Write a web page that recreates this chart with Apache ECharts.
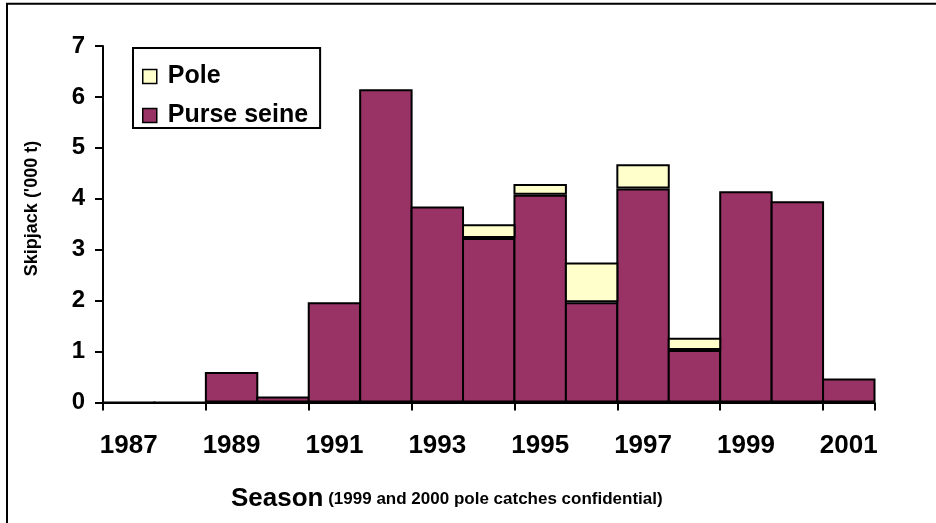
<!DOCTYPE html>
<html>
<head>
<meta charset="utf-8">
<script src="https://cdn.jsdelivr.net/npm/echarts@6/dist/echarts.min.js"></script>
<style>
  html, body { margin: 0; padding: 0; background: #fff; }
  #chart { width: 936px; height: 523px; }
</style>
</head>
<body>
<div id="chart"></div>
<script>
// season categories
const seasons = ['1987', '1988', '1989', '1990', '1991', '1992', '1993', '1994',
  '1995', '1996', '1997', '1998', '1999', '2000', '2001'];
// catches, '000 t (null = no pole catch shown / confidential)
const purseSeine = [0, 0, 0.6, 0.12, 1.97, 6.15, 3.85, 3.23, 4.08, 1.97, 4.2, 1.03, 4.15, 3.95, 0.47];
const pole = [null, null, null, null, null, null, null, 0.27, 0.21, 0.78, 0.48, 0.24, null, null, null];
const seriesNames = ['Purse seine', 'Pole'];
const legendOrder = ['Pole', 'Purse seine'];

const FONT = 'Liberation Sans, Arial, sans-serif';
const chart = echarts.init(document.getElementById('chart'));

// bars touch each other: one category wide plus the border
const catWidth = (936 - 103 - 61.5) / seasons.length;
const barW = catWidth + 2;

const option = {
  backgroundColor: '#fff',
  animation: false,
  textStyle: { fontFamily: FONT },
  grid: { left: 103, right: 61.5, top: 46, bottom: 120.5 },
  legend: {
    data: legendOrder,
    orient: 'vertical',
    left: 133,
    top: 48,
    padding: [16, 12, 0, 9],
    itemGap: 14,
    itemWidth: 14,
    itemHeight: 14,
    icon: 'rect',
    backgroundColor: '#fff',
    borderColor: '#000',
    borderWidth: 2,
    borderRadius: 0,
    itemStyle: { borderColor: '#000', borderWidth: 1.5 },
    textStyle: {
      fontSize: 25, fontWeight: 'bold', color: '#000', fontFamily: FONT,
      padding: [0, 0, 0, 6]
    }
  },
  xAxis: {
    type: 'category',
    data: seasons,
    axisLine: { lineStyle: { color: '#000', width: 2 } },
    axisTick: { show: true, length: 8, lineStyle: { color: '#000', width: 2 } },
    axisLabel: {
      interval: 1, margin: 30, color: '#000',
      fontSize: 26, fontWeight: 'bold', fontFamily: FONT
    },
    splitLine: { show: false }
  },
  yAxis: {
    type: 'value',
    min: 0, max: 7, interval: 1,
    axisLine: { show: true, lineStyle: { color: '#000', width: 2 } },
    axisTick: { show: true, length: 8, lineStyle: { color: '#000', width: 2 } },
    axisLabel: {
      margin: 18, color: '#000',
      fontSize: 24, fontWeight: 'bold', fontFamily: FONT
    },
    splitLine: { show: false }
  },
  series: [
    {
      name: seriesNames[0],
      type: 'bar',
      stack: 'catch',
      data: purseSeine,
      barWidth: barW,
      itemStyle: { color: '#993366', borderColor: '#000', borderWidth: 2 }
    },
    {
      name: seriesNames[1],
      type: 'bar',
      stack: 'catch',
      data: pole,
      barWidth: barW,
      itemStyle: { color: '#FFFFCC', borderColor: '#000', borderWidth: 2 }
    }
  ],
  graphic: [
    {
      type: 'rect',
      silent: true,
      shape: { x: 7, y: 3.7, width: 1200, height: 1200 },
      style: { fill: 'none', stroke: '#000', lineWidth: 2 }
    },
    {
      type: 'text',
      x: 32, y: 208.5,
      rotation: Math.PI / 2,
      style: {
        text: "Skipjack ('000 t)",
        font: 'bold 18px ' + FONT,
        fill: '#000',
        align: 'center',
        verticalAlign: 'middle'
      }
    },
    {
      type: 'text',
      x: 231, y: 499,
      style: {
        text: '{a|Season} {b|(1999 and 2000 pole catches confidential)}',
        font: 'bold 17px ' + FONT,
        fill: '#000',
        align: 'left',
        verticalAlign: 'middle',
        rich: {
          a: { fontSize: 26, fontWeight: 'bold', fontFamily: FONT, fill: '#000' },
          b: { fontSize: 17, fontWeight: 'bold', fontFamily: FONT, fill: '#000' }
        }
      }
    }
  ]
};

chart.setOption(option);
</script>
</body>
</html>
